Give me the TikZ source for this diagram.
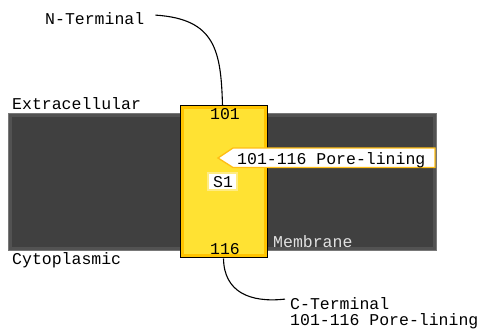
\documentclass[tikz,border=0pt]{standalone}
\usepackage{fontspec}
\setmonofont{Liberation Mono}
\usetikzlibrary{calc}
\definecolor{membranefill}{RGB}{64,64,64}
\definecolor{membraneedge}{RGB}{82,82,82}
\definecolor{membranerim}{RGB}{120,120,120}
\definecolor{helixfill}{RGB}{255,226,51}
\definecolor{helixedge}{RGB}{255,196,0}
\definecolor{calloutedge}{RGB}{255,190,20}
\definecolor{labeledge}{RGB}{255,236,130}
\definecolor{membranetext}{RGB}{225,225,225}
\tikzset{
  lbl/.style={font=\ttfamily\fontsize{16.5}{18}\selectfont, inner sep=0pt, anchor=base west},
  num/.style={font=\ttfamily\fontsize{16.5}{18}\selectfont, inner sep=0pt, anchor=base},
  tether/.style={draw=black, line width=1.1pt}
}
\begin{document}
\begin{tikzpicture}[x=1pt, y=-1pt]
  \useasboundingbox (0,0) rectangle (485,329);

  % lipid membrane slab
  \fill[membranerim] (8,113) rectangle (437,251);
  \fill[membraneedge] (9,114) rectangle (436,250);
  \fill[membranefill] (12,117) rectangle (433,247);

  % transmembrane helix S1
  \node[draw=black, line width=1pt, fill=helixedge, minimum width=87pt, minimum height=151pt,
        inner sep=0pt] (helix) at (223.5,181.5) {};
  \fill[helixfill] (183.5,109) rectangle (263.5,254);

  \node[num] (top) at (225,120) {101};
  \node[num] (bot) at (225,254) {116};

  % S1 label
  \node[draw=labeledge, line width=2pt, fill=white, minimum width=29pt, minimum height=17pt,
        inner sep=0pt] (s1box) at (222.5,181) {};
  \node[num] (s1) at (223,187) {S1};

  % pore-lining callout
  \coordinate (tip) at (218,158);
  \filldraw[draw=calloutedge, fill=white, line width=1.3pt]
    (tip) -- (233,148) -- (435,148) -- (435,167.5) -- (233,167.5) -- cycle;
  \node[lbl] (pore) at (237,164) {101-116 Pore-lining};

  % side labels
  \node[lbl] (nterm) at (45,25) {N-Terminal};
  \node[lbl] (extra) at (12,110) {Extracellular};
  \node[lbl] (cyto) at (12,264) {Cytoplasmic};
  \node[lbl, text=membranetext] (memb) at (273,247) {Membrane};
  \node[lbl] (cterm) at (290,309) {C-Terminal};
  \node[lbl] (cpore) at (290,325) {101-116 Pore-lining};

  % termini tethers
  \draw[tether] ($(nterm.east)+(11,-4)$) .. controls (215,19) and (221,50) .. ($(helix.north)+(-1,0)$);
  \draw[tether] ($(helix.south)+(0,1)$) .. controls (224,292) and (250,303) .. ($(cterm.west)+(-5,-4)$);
\end{tikzpicture}
\end{document}
